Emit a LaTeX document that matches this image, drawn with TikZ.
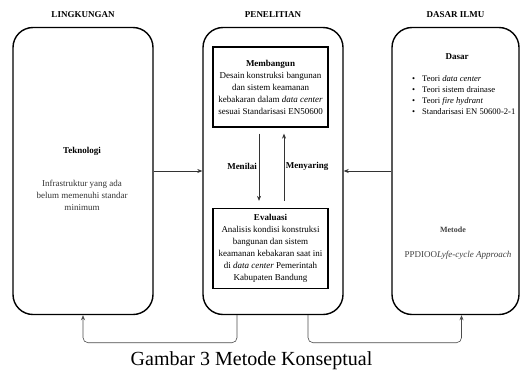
\documentclass[tikz,border=0pt]{standalone}
\usepackage{fontspec}
\setmainfont{Liberation Serif}
\usetikzlibrary{shapes,arrows.meta,positioning,calc}
\tikzstyle{outer} = [draw, line width=1.4pt, rounded corners=20pt, minimum width=140pt, minimum height=287pt]
\tikzstyle{inner} = [draw, line width=1.3pt, minimum width=115pt, minimum height=80pt, align=center, font=\fontsize{9}{12}\selectfont, inner sep=2pt]
\tikzstyle{heading} = [font=\fontsize{9}{11}\selectfont\bfseries, inner sep=0pt]
\tikzstyle{body} = [font=\fontsize{9}{12}\selectfont, align=center, inner sep=0pt]
\tikzstyle{flow} = [draw=black!80, line width=0.6pt, -{Stealth[length=5pt,width=4pt]}]

\begin{document}
\begin{tikzpicture}[x=1pt,y=-1pt]
    \useasboundingbox (0,0) rectangle (521,372);

    % three columns
    \node[outer] (lingk) at (83,171) {};
    \node[outer] (penel) at (273,171) {};
    \node[outer, minimum width=127pt] (dasar) at (455.5,171) {};
    \node[heading, above=9pt of lingk] (tLingk) {LINGKUNGAN};
    \node[heading, above=9pt of penel] (tPenel) {PENELITIAN};
    \node[heading, above=9pt of dasar] (tDasar) {DASAR ILMU};

    % lingkungan
    \node[heading] (tekno) at (82,151) {Teknologi};
    \node[body, text=black!80] (teknoDesc) at (82,195) {Infrastruktur yang ada\\belum memenuhi standar\\minimum};

    % penelitian
    \node[inner] (bangun) at (270.5,87) {\textbf{Membangun}\\Desain konstruksi bangunan\\dan sistem keamanan\\kebakaran dalam \textit{data center}\\sesuai Standarisasi EN50600};
    \node[inner] (eval) at (270.5,248.5) {\textbf{Evaluasi}\\Analisis kondisi konstruksi\\bangunan dan sistem\\keamanan kebakaran saat ini\\di \textit{data center} Pemerintah\\Kabupaten Bandung};
    \draw[flow, shorten <=6pt, shorten >=7pt] ([xshift=-11.5pt]bangun.south) -- ([xshift=-11.5pt]eval.north);
    \draw[flow, shorten <=7pt, shorten >=6pt] ([xshift=13.5pt]eval.north) -- ([xshift=13.5pt]bangun.south);
    \node[heading] (nilai) at (242,166) {Menilai};
    \node[heading] (saring) at (307,166) {Menyaring};

    % dasar ilmu
    \node[heading] (dasarT) at (457,57) {Dasar};
    \node[body, align=left, anchor=west, font=\fontsize{8.6}{11}\selectfont] (teori) at (412,95.5)
        {\makebox[10pt][l]{\textbullet}Teori \textit{data center}\\
         \makebox[10pt][l]{\textbullet}Teori sistem drainase\\
         \makebox[10pt][l]{\textbullet}Teori \textit{fire hydrant}\\
         \makebox[10pt][l]{\textbullet}Standarisasi EN 50600-2-1};
    \node[heading, text=black!75, font=\fontsize{8}{9}\selectfont\bfseries] (metode) at (453,230) {Metode};
    \node[body, text=black!75] (ppdioo) at (458,255) {PPDIOO\textit{Lyfe-cycle Approach}};

    % connectors
    \draw[flow] (lingk.east) -- (penel.west);
    \draw[flow] (dasar.west) -- (penel.east);
    \draw[flow, draw=black!70, rounded corners=5pt] ([xshift=-36pt]penel.south) -- ++(0,27.5) -| (lingk.south);
    \draw[flow, draw=black!70, rounded corners=5pt] ([xshift=35pt]penel.south) -- ++(0,27.5) -| ([xshift=6pt]dasar.south);

    \node[font=\fontsize{20}{24}\selectfont] (caption) at (251.5,361) {Gambar 3 Metode Konseptual};
\end{tikzpicture}
\end{document}
